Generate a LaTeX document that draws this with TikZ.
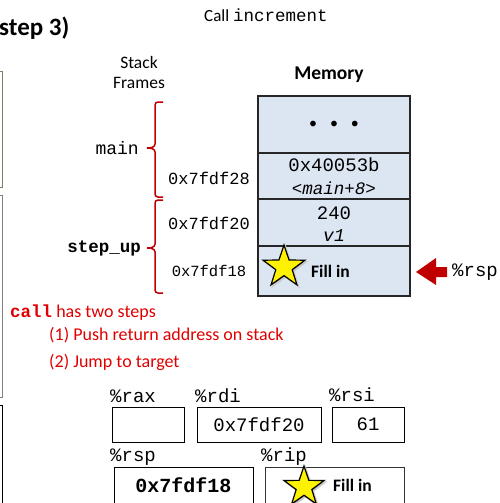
\documentclass[tikz,border=0pt]{standalone}
\usepackage{fontspec}
\setmainfont{Carlito}
\newfontfamily\mono{Liberation Mono}
\usetikzlibrary{shapes.geometric}
\definecolor{cellblue}{HTML}{DCE6F2}
\definecolor{bracered}{HTML}{C00000}
\definecolor{txtred}{HTML}{E00000}
\definecolor{olive}{HTML}{7F7F5F}
\tikzset{
  cell/.style={draw=black!85, line width=1.1pt, fill=cellblue, minimum width=152pt, inner sep=0pt, align=center},
  regbox/.style={draw=black, line width=0.8pt, fill=white, inner sep=0pt, minimum height=35pt},
  monotxt/.style={font=\mono\fontsize{19}{20}\selectfont, inner sep=0pt},
  fillstar/.style={star, star points=5, star point ratio=2.55, draw=black, line width=1.2pt, fill=yellow, minimum size=44pt, inner sep=0pt},
  starshadow/.style={star, star points=5, star point ratio=2.55, fill=black!35, draw=black!20, line width=1.5pt, minimum size=44pt, inner sep=0pt},
  filltxt/.style={inner sep=0pt, font=\bfseries\fontsize{17.5}{20}\selectfont, anchor=west},
  brace/.style={draw=bracered, line width=1.5pt},
  redtxt/.style={text=txtred, font=\fontsize{18}{21}\selectfont, inner sep=0pt, anchor=west}
}
\begin{document}
\begin{tikzpicture}[x=1pt,y=-1pt]
\useasboundingbox (0,0) rectangle (500,503);
% left cut-off boxes
\draw[draw=olive, line width=1pt] (-20,71) rectangle (2,187);
\draw[draw=gray, line width=1pt] (-20,195) rectangle (2,397);
\draw[draw=black, line width=1pt] (-20,405) rectangle (2,520);
% titles
\node[inner sep=0pt, anchor=west] (title) at (204,15) {\fontsize{17}{20}\selectfont Call {\mono\fontsize{17.5}{20}\selectfont increment}};
\node[anchor=west, inner sep=0pt, font=\bfseries\fontsize{25}{28}\selectfont] (step) at (-1,28) {step 3)};
\node[inner sep=0pt, align=center, font=\fontsize{17.5}{20}\selectfont] (frames) at (139,72) {Stack\\Frames};
\node[inner sep=0pt, font=\bfseries\fontsize{19.5}{22}\selectfont] (memtitle) at (329,75) {Memory};
% memory cells
\node[cell, minimum height=57pt] (c1) at (334,124.5) {};
\node[cell, minimum height=46pt] (c2) at (334,176) {};
\node[cell, minimum height=47pt] (c3) at (334,222.5) {};
\node[cell, minimum height=50pt] (c4) at (334,271) {};
\node[inner sep=0pt, font=\fontsize{16}{16}\selectfont] (dots) at (334,125) {•\hspace{13pt}•\hspace{13pt}•};
\node[monotxt] (v2a) at (334,165) {0x40053b};
\node[monotxt, font=\mono\itshape\fontsize{17.5}{18}\selectfont] (v2b) at (334,188) {<main+8>};
\node[monotxt] (v3a) at (334,213) {240};
\node[monotxt, font=\mono\itshape\fontsize{18}{18}\selectfont] (v3b) at (334,236) {v1};
\node[starshadow] (shadow1) at (285.5,268.5) {};
\node[fillstar] (star1) at (284,267) {};
\node[filltxt] (fill1) at (311,271) {Fill in};
% addresses
\node[monotxt, font=\mono\fontsize{17}{18}\selectfont] (a28) at (209,178) {0x7fdf28};
\node[monotxt, font=\mono\fontsize{17}{18}\selectfont] (a20) at (209,223) {0x7fdf20};
\node[monotxt, font=\mono\fontsize{15.5}{18}\selectfont] (a18) at (209,271) {0x7fdf18};
% frame labels
\node[monotxt, font=\mono\fontsize{18}{18}\selectfont, anchor=east] (mainlbl) at (139,148) {main};
\node[monotxt, font=\mono\bfseries\fontsize{17.5}{18}\selectfont, anchor=east] (steplbl) at (141,248) {step\_up};
% braces
\draw[brace] (163,102) -- (158,102) to[out=180,in=90] (155,105) -- (155,144) to[out=270,in=0] (147,148) to[out=0,in=90] (155,152) -- (155,194) to[out=270,in=180] (158,197) -- (163,197);
\draw[brace] (163,200) -- (158,200) to[out=180,in=90] (155,203) -- (155,244) to[out=270,in=0] (147,248) to[out=0,in=90] (155,252) -- (155,290) to[out=270,in=180] (158,293) -- (163,293);
% rsp arrow
\fill[bracered] (416,272) -- (436,258) -- (436,267) -- (447,267) -- (447,277) -- (436,277) -- (436,285) -- cycle;
\node[monotxt, anchor=west] (rsplbl) at (452,272) {\%rsp};
% call text
\node[redtxt] (calltxt) at (10,313) {{\mono\bfseries\fontsize{17.5}{19}\selectfont call} has two steps};
\node[redtxt] (step1) at (49,335) {(1) Push return address on stack};
\node[redtxt] (step2) at (49,362) {(2) Jump to target};
% registers
\node[monotxt, anchor=west] (lrax) at (110,396) {\%rax};
\node[monotxt, anchor=west] (lrdi) at (195,396) {\%rdi};
\node[monotxt, anchor=west] (lrsi) at (329,395) {\%rsi};
\node[monotxt, anchor=west] (lrsp) at (110,457) {\%rsp};
\node[monotxt, anchor=west] (lrip) at (261,457) {\%rip};
\node[regbox, minimum width=72pt] (rax) at (148,424.5) {};
\node[regbox, minimum width=124pt, monotxt, minimum height=35pt, draw=black, line width=0.8pt] (rdi) at (259,424.5) {0x7fdf20};
\node[regbox, minimum width=72pt, monotxt, minimum height=35pt, draw=black, line width=0.8pt] (rsi) at (368,424.5) {61};
\node[regbox, minimum width=139pt, monotxt, minimum height=36pt, draw=black, line width=0.8pt, font=\mono\bfseries\fontsize{20}{20}\selectfont] (rsp) at (183.5,485) {0x7fdf18};
\node[regbox, minimum width=139pt, minimum height=36pt, draw=black!80] (rip) at (334.5,485) {};
\node[starshadow, minimum size=42pt] (shadow2) at (305.5,488.5) {};
\node[fillstar, minimum size=42pt] (star2) at (304,487) {};
\node[filltxt] (fill2) at (333,485) {Fill in};
\end{tikzpicture}
\end{document}
